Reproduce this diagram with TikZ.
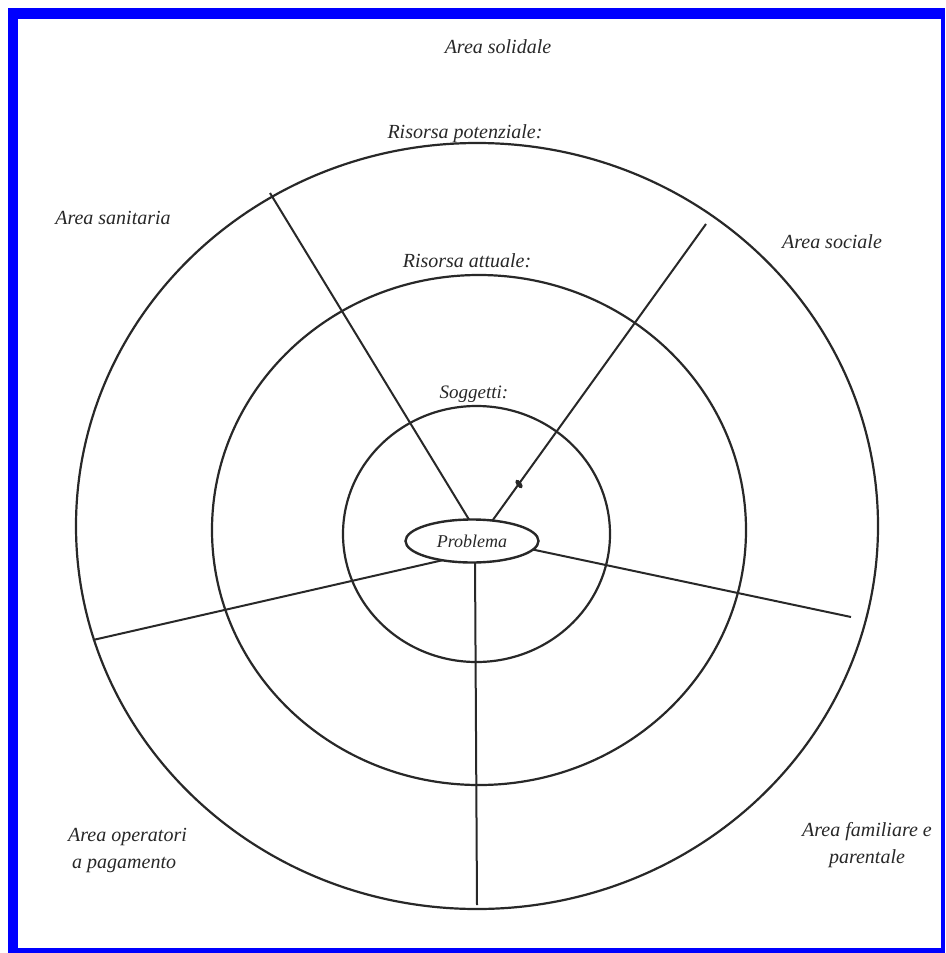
\documentclass[tikz,border=0pt]{standalone}
\usepackage{fontspec}
\setmainfont{Liberation Serif}
\usetikzlibrary{shapes.geometric}
\definecolor{ink}{RGB}{40,40,40}
\definecolor{frameblue}{RGB}{0,0,255}
\begin{document}
\begin{tikzpicture}[x=1pt,y=-1pt,
  ring/.style={draw=ink, line width=2.2pt, ellipse, inner sep=0pt, outer sep=0pt},
  spoke/.style={draw=ink, line width=2pt},
  lbl/.style={font=\fontsize{20}{26.5}\selectfont\itshape, text=ink, inner sep=0pt},
]
\useasboundingbox (0,0) rectangle (945,953);
\fill[white] (0,0) rectangle (945,953);
% blue frame
\fill[frameblue] (8,8) rectangle (945,19);
\fill[frameblue] (8,8) rectangle (18,953);
\fill[frameblue] (941,8) rectangle (945,953);
\fill[frameblue] (8,948) rectangle (945,953);
% rings
\node[ring, minimum width=802pt, minimum height=766pt] (outer) at (477,526) {};
\node[ring, minimum width=534pt, minimum height=510pt] (middle) at (479,530) {};
\node[ring, minimum width=267pt, minimum height=256pt] (inner) at (476.5,534) {};
% problem
\node[ring, line width=2.4pt, minimum width=133pt, minimum height=43pt,
      font=\fontsize{18}{20}\selectfont\itshape, text=ink] (prob) at (472,541) {Problema};
% spokes
\coordinate (eUL) at (270,193);
\coordinate (eUR) at (706,224);
\coordinate (eR) at (851,617);
\coordinate (eLL) at (93,640);
\coordinate (eB) at (477,905);
\draw[spoke] (prob.98) -- (eUL);
\draw[spoke] (prob.45) -- (eUR);
\draw[spoke] (prob.-8) -- (eR);
\draw[spoke] (prob.213) -- (eLL);
\draw[spoke] (prob.-82) -- (eB);
\fill[ink, rotate around={36:(519,484)}] (519,484) ellipse [x radius=2.6, y radius=5];
% labels
\node[lbl, anchor=base] (tSol) at (498,53) {Area solidale};
\node[lbl, anchor=base] (tPot) at (465,138) {Risorsa potenziale:};
\node[lbl, anchor=base] (tAtt) at (467,267) {Risorsa attuale:};
\node[lbl, anchor=base, font=\fontsize{19}{22}\selectfont\itshape] (tSog) at (474,398) {Soggetti:};
\node[lbl, anchor=base] (tSan) at (113,224) {Area sanitaria};
\node[lbl, anchor=base] (tSoc) at (832,248) {Area sociale};
\node[lbl, anchor=base west, align=left] (tOp) at (68,868) {Area operatori\\\hspace*{4pt}a pagamento};
\node[lbl, anchor=base, align=center] (tFam) at (867,863) {Area familiare e\\parentale};
\end{tikzpicture}
\end{document}
